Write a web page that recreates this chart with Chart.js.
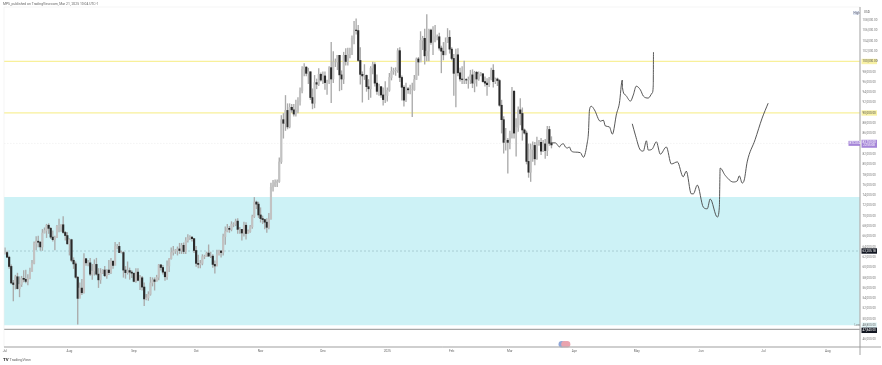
<!DOCTYPE html>
<html>
<head>
<meta charset="utf-8">
<style>
  html, body { margin: 0; padding: 0; background: #fff; }
  canvas { display: block; }
</style>
<script src="https://cdn.jsdelivr.net/npm/chart.js@4/dist/chart.umd.js"></script>
</head>
<body>
<canvas id="chart" width="882" height="365"></canvas>
<script>
// daily candles from 1 Jul 2024, prices in thousands of USD
const closes = [
  62.9,62.0,60.2,57.0,56.7,58.2,55.9,56.7,57.9,57.7,57.3,57.9,59.2,60.8,64.7,65.1,64.9,64.0,66.7,67.2,68.2,67.6,65.9,65.4,65.8,68.0,68.0,68.3,66.8,66.2,64.6,
  65.4,61.4,60.7,58.1,54.0,56.0,55.1,61.7,60.9,60.9,58.7,59.3,60.6,58.7,57.6,58.9,59.5,58.4,59.5,59.0,61.2,60.4,64.1,64.1,62.9,62.9,59.5,59.0,59.4,59.1,58.9,
  57.3,59.1,57.5,58.0,56.2,53.9,54.1,54.8,57.0,57.6,57.3,58.1,60.5,60.0,59.1,58.2,60.3,61.7,62.9,63.2,63.3,63.6,63.3,64.3,63.1,65.2,65.8,65.9,65.6,63.3,
  60.8,60.6,60.8,62.1,62.1,62.8,62.2,62.2,60.6,60.3,62.5,63.2,62.9,66.0,67.0,67.6,67.4,68.4,68.4,69.0,67.4,67.4,66.7,68.2,66.6,67.0,67.9,69.9,72.7,72.3,70.2,
  69.5,69.3,68.8,67.8,69.4,75.6,75.9,76.5,76.7,80.5,88.7,88.0,90.5,87.3,91.1,90.6,89.8,90.5,92.3,94.3,98.5,98.9,97.7,98.0,93.0,91.9,95.9,95.6,97.5,96.4,
  97.2,95.9,96.0,98.8,96.6,99.9,99.9,101.2,97.4,96.6,101.2,100.0,101.4,101.4,104.5,106.1,106.0,100.2,97.5,97.2,97.3,95.1,94.7,98.7,99.4,95.8,94.2,95.1,93.5,92.6,93.4,
  94.4,96.9,98.1,98.2,98.3,102.1,96.9,95.0,92.5,94.7,94.5,94.5,94.5,96.5,100.5,99.9,104.1,104.5,101.1,102.0,106.1,103.7,103.9,104.8,104.8,102.6,102.0,101.3,103.7,104.7,102.4,
  100.6,97.7,101.3,97.8,96.6,96.5,96.5,96.4,96.5,97.4,95.8,97.9,96.6,97.5,97.6,96.1,95.8,95.5,96.6,98.3,96.1,96.6,96.3,91.5,88.7,84.3,84.7,84.3,
  86.0,94.2,86.1,87.2,90.6,89.9,86.7,86.1,80.6,78.5,82.9,83.7,81.1,83.9,84.3,82.6,84.0,82.7,86.8,84.1,83.8
];
const opens = [
  62.7,62.9,62.0,60.2,57.0,56.7,58.2,55.9,56.7,57.9,57.7,57.3,57.9,59.2,60.8,64.7,65.1,64.9,64.0,66.7,67.2,68.2,67.6,65.9,65.4,65.8,68.0,68.0,68.3,66.8,66.2,
  64.6,65.4,61.4,60.7,58.1,54.0,56.0,55.1,61.7,60.9,60.9,58.7,59.3,60.6,58.7,57.6,58.9,59.5,58.4,59.5,59.0,61.2,60.4,64.1,64.1,62.9,62.9,59.5,59.0,59.4,59.1,
  58.9,57.3,59.1,57.5,58.0,56.2,53.9,54.1,54.8,57.0,57.6,57.3,58.1,60.5,60.0,59.1,58.2,60.3,61.7,62.9,63.2,63.3,63.6,63.3,64.3,63.1,65.2,65.8,65.9,65.6,
  63.3,60.8,60.6,60.8,62.1,62.1,62.8,62.2,62.2,60.6,60.3,62.5,63.2,62.9,66.0,67.0,67.6,67.4,68.4,68.4,69.0,67.4,67.4,66.7,68.2,66.6,67.0,67.9,69.9,72.7,72.3,
  70.2,69.5,69.3,68.8,67.8,69.4,75.6,75.9,76.5,76.7,80.5,88.7,88.0,90.5,87.3,91.1,90.6,89.8,90.5,92.3,94.3,98.5,98.9,97.7,98.0,93.0,91.9,95.9,95.6,97.5,
  96.4,97.2,95.9,96.0,98.8,96.6,99.9,99.9,101.2,97.4,96.6,101.2,100.0,101.4,101.4,104.5,106.1,106.0,100.2,97.5,97.2,97.3,95.1,94.7,98.7,99.4,95.8,94.2,95.1,93.5,92.6,
  93.4,94.4,96.9,98.1,98.2,98.3,102.1,96.9,95.0,92.5,94.7,94.5,94.5,94.5,96.5,100.5,99.9,104.1,104.5,101.1,102.0,106.1,103.7,103.9,104.8,104.8,102.6,102.0,101.3,103.7,104.7,
  102.4,100.6,97.7,101.3,97.8,96.6,96.5,96.5,96.4,96.5,97.4,95.8,97.9,96.6,97.5,97.6,96.1,95.8,95.5,96.6,98.3,96.1,96.6,96.3,91.5,88.7,84.3,84.7,
  84.3,86.0,94.2,86.1,87.2,90.6,89.9,86.7,86.1,80.6,78.5,82.9,83.7,81.1,83.9,84.3,82.6,84.0,82.7,86.8,84.1
];
const highs = [
  63.8,63.2,62.2,60.5,57.5,58.5,58.9,58.2,58.3,59.4,59.5,58.6,59.9,61.4,65.0,66.0,66.1,65.1,67.4,67.7,68.4,68.5,67.8,67.1,66.1,68.2,69.4,68.3,69.9,67.0,66.8,
  65.6,65.5,61.9,61.1,58.3,57.0,57.7,62.7,61.8,61.4,61.8,60.6,61.5,61.8,59.8,59.8,59.6,60.2,59.6,61.4,61.8,61.4,64.9,64.5,64.9,63.2,63.1,60.2,61.1,59.9,59.4,
  58.8,59.8,59.8,58.5,58.3,57.0,54.8,55.3,58.1,58.0,58.0,58.5,60.6,60.6,60.4,59.2,61.3,61.8,63.8,64.1,63.5,64.0,64.7,64.7,64.8,65.8,66.4,66.2,66.0,65.6,
  64.1,62.4,61.4,62.5,62.4,63.0,64.4,63.0,62.5,61.3,63.4,63.4,63.3,66.5,67.9,68.4,68.0,68.9,68.7,69.4,69.5,67.8,67.4,68.8,68.7,67.3,68.2,70.2,73.6,72.9,72.7,
  71.6,70.0,69.4,69.5,70.5,76.4,76.9,77.0,77.0,81.3,89.5,89.9,93.4,91.8,91.8,91.7,91.7,92.5,93.0,94.9,99.0,99.6,99.0,98.7,98.0,94.7,97.3,96.6,98.6,97.8,
  98.0,98.0,96.4,99.0,103.7,101.9,100.5,101.2,101.2,98.2,101.8,102.5,102.6,102.6,105.0,107.8,108.3,107.0,102.7,98.0,99.4,97.4,96.5,99.0,99.9,99.8,97.4,95.6,95.2,94.9,96.1,
  94.9,97.7,98.9,98.7,98.8,102.5,102.7,97.2,95.3,95.8,95.0,95.4,95.8,97.3,100.7,100.8,105.8,104.9,106.3,109.1,106.3,106.3,106.8,107.0,105.2,105.5,103.0,103.7,104.6,106.4,106.0,
  102.7,101.4,102.4,102.5,98.7,99.0,100.1,96.7,97.0,98.3,98.4,98.1,98.1,98.0,97.9,97.7,97.0,96.7,96.9,98.7,99.4,96.8,96.8,96.5,92.5,89.3,87.0,85.1,
  86.5,95.0,94.4,88.9,91.2,92.8,91.0,86.9,86.5,84.0,84.0,84.4,84.3,85.3,84.7,85.1,84.7,84.9,87.4,87.4,85.4
];
const lows = [
  62.6,61.9,59.8,56.8,53.5,55.8,55.8,54.3,56.3,57.2,57.0,56.6,57.8,59.6,60.7,63.4,64.0,63.3,63.3,66.7,65.8,66.6,65.6,65.1,63.4,65.8,66.9,67.0,66.6,65.3,64.5,
  62.4,61.1,59.8,57.9,49.0,54.6,54.7,55.0,60.4,60.3,58.4,57.7,58.5,58.5,56.1,56.9,58.8,58.2,57.9,58.6,58.8,59.8,60.8,63.6,62.9,62.8,58.1,57.9,58.7,57.7,58.0,
  57.2,57.1,57.4,55.7,55.6,52.6,53.7,53.6,54.6,56.4,55.6,57.4,57.6,59.5,58.7,57.5,57.7,59.2,61.6,62.4,62.7,62.4,62.7,62.7,62.7,62.7,64.9,65.4,65.1,62.9,
  60.2,59.9,59.9,60.5,61.7,62.1,62.2,61.9,60.0,58.9,60.3,62.4,62.0,62.4,64.5,66.9,66.8,67.1,67.9,68.1,66.6,66.6,65.3,66.1,65.5,66.8,66.8,67.6,69.7,71.4,69.7,
  68.8,68.5,67.5,66.8,67.5,69.4,74.8,75.7,75.7,76.5,80.2,85.1,86.6,86.9,87.1,90.1,89.4,89.4,90.0,91.5,93.9,97.2,97.2,95.7,92.6,90.8,91.0,94.7,95.3,96.2,
  95.7,94.6,93.6,95.7,92.0,95.9,99.0,98.4,94.3,94.5,95.7,99.3,99.3,100.7,101.3,103.4,105.3,100.0,95.6,92.1,96.5,94.2,92.6,93.0,97.6,95.2,93.6,93.4,93.0,91.5,92.0,
  92.3,94.2,96.4,97.5,97.3,97.9,96.1,92.5,91.3,92.2,93.8,93.7,89.3,94.4,96.5,97.3,100.0,102.3,99.5,100.1,100.1,103.3,101.3,103.8,104.2,102.2,97.8,100.3,101.3,103.7,101.6,
  100.3,93.4,91.2,97.2,96.2,95.7,95.7,95.7,94.8,95.7,94.9,94.1,95.2,96.3,97.2,96.0,95.2,93.4,95.1,96.4,95.0,95.7,95.3,91.3,86.1,82.2,82.8,78.3,
  83.0,85.1,85.1,81.6,86.4,87.7,84.7,85.9,80.1,77.5,76.7,80.6,79.9,81.0,83.7,81.9,82.5,81.2,81.7,83.7,83.2
];

// hand drawn projections: [day, price]
const pathUpper = [
  [262.5,84.2],[264.9,84.2],[265.9,83.8],[266.8,83.4],[267.8,83.9],[268.8,84.0],[269.7,83.4],[270.7,83.2],[271.6,83.4],
  [272.6,82.6],[274.5,82.4],[276.9,82.3],[278.4,81.4],
  [280.3,84.4],[280.8,86.1],[281.3,90.6],[282.2,91.3],[283.7,90.6],[286.5,88.4],[288,88.6],[288.9,87.5],
  [290.9,87.3],[292.3,85.9],[292.8,86.3],[294.2,89.6],[295.7,91.9],[297.1,96.4],[297.2,94.9],[298.6,93.5],
  [301,92.3],[302.4,93.5],[303.8,95.2],[305.8,94.5],[307.2,93.3],[309.6,92.9],[311.5,93.9],[312,95.4],[312.1,101.8]
];
const pathLower = [
  [301.9,87.9],[303.4,85.7],[305.8,82.8],[307.2,82.6],[308.7,84.6],[309.6,82.8],[311.5,83.0],[313.5,84.4],
  [315.4,82.0],[318.3,83.4],[320.7,80.1],[323.6,80.5],[326.4,77.6],[327.9,78.7],[330.3,74.3],[331.3,74.3],
  [333.2,76.0],[336.1,71.7],[338,71.4],[339.4,73.3],[342.8,69.8],[343.8,71.7],[344.2,79.3],[346.6,77.9],
  [350.5,76.6],[352.4,76.8],[353.4,77.8],[354.8,76.4],[355.8,77.0],[357.2,80.5],[361,84.8],[364.4,89.0],[367.3,91.9]
];

const monthDays = [0,31,62,92,123,153,184,215,243,274,304,335,365,396];
const monthLabels = ["Jul","Aug","Sep","Oct","Nov","Dec","2025","Feb","Mar","Apr","May","Jun","Jul","Aug"];
const priceTicks = [46,48,50,52,54,56,58,60,62,64,66,68,70,72,74,76,78,80,82,84,86,88,90,92,94,96,98,100,102,104,106,108];

const zoneTop = 73.7, zoneBottom = 48.8;
const resistanceLevels = [100, 90];
const lastPriceLevel = 84.1;
const dashedLevel = 63.2;
const paneFloor = 48;
const eventDays = [268, 269.3, 270.5];
const eventPrice = 45.1;

// boxes on the price axis
const priceTags = [
  { value: 100, text: "100,000.00", bg: "#f8f1a4", fg: "#555" },
  { value: 90, text: "90,000.00", bg: "#f8f1a4", fg: "#555" },
  { value: 63.2, text: "63,205.18", bg: "#131722", fg: "#fff" },
  { value: 48.8, text: "48,800.00", bg: "#e4f6f8", fg: "#666" },
  { value: 47.8, text: "47,840.00", bg: "#131722", fg: "#fff" }
];

const xMin = -0.48, xMax = 411.5;
const level = (v, color, width, dash) => ({
  type: "line",
  data: [{ x: xMin, y: v }, { x: xMax, y: v }],
  borderColor: color,
  borderWidth: width,
  borderDash: dash || [],
  pointRadius: 0,
  order: 4
});
const drawn = (path) => ({
  type: "line",
  data: path.map(p => ({ x: p[0], y: p[1] })),
  borderColor: "#444444",
  borderWidth: 0.9,
  cubicInterpolationMode: "monotone",
  pointRadius: 0,
  order: 1
});

const annotations = {
  id: "annotations",
  afterDraw(chart) {
    const ctx = chart.ctx, y = chart.scales.y, area = chart.chartArea;
    ctx.save();

    // frame
    ctx.strokeStyle = "#eeeeee";
    ctx.lineWidth = 0.6;
    ctx.strokeRect(area.left, area.top, area.right - area.left, area.bottom - area.top);
    ctx.strokeStyle = "#9a9a9a";
    ctx.lineWidth = 0.9;
    ctx.beginPath();
    ctx.moveTo(area.right, area.top);
    ctx.lineTo(area.right, 355);
    ctx.moveTo(area.left, area.bottom);
    ctx.lineTo(881, area.bottom);
    ctx.stroke();

    ctx.textBaseline = "middle";
    ctx.font = "3px Roboto, sans-serif";
    priceTags.forEach(t => {
      const py = y.getPixelForValue(t.value);
      ctx.fillStyle = t.bg;
      ctx.fillRect(area.right + 1.5, py - 2.7, 15.5, 5.4);
      ctx.fillStyle = t.fg;
      ctx.textAlign = "left";
      ctx.fillText(t.text, area.right + 2.6, py);
    });

    // last price tag, two lines
    const lastY = y.getPixelForValue(lastPriceLevel);
    ctx.fillStyle = "#a585d8";
    ctx.fillRect(area.right + 1.5, lastY - 3.6, 15.5, 8);
    ctx.fillRect(area.right - 11.5, lastY - 2.5, 11.5, 5);
    ctx.fillStyle = "#fff";
    ctx.fillText("83,750.00", area.right + 2.6, lastY - 1.2);
    ctx.fillText("22:55:08", area.right + 3.2, lastY + 2.2);
    ctx.fillText("BTCUSD", area.right - 10.5, lastY);

    ctx.fillStyle = "#dfe6f2";
    ctx.fillRect(area.right - 7, 11, 6.5, 4);
    ctx.fillStyle = "#667";
    ctx.fillText("High", area.right - 6.4, 13);
    ctx.fillStyle = "#777";
    ctx.fillText("Low", area.right - 5.5, y.getPixelForValue(zoneBottom));
    ctx.fillStyle = "#555";
    ctx.fillText("USD", area.right + 4, 12);

    // header and footer text
    ctx.font = "3.4px Roboto, sans-serif";
    ctx.fillStyle = "#666";
    ctx.fillText("MPS, published on TradingView.com, Mar 21, 2025 10:04 UTC-1", 3, 4);
    ctx.font = "bold 4.4px Roboto, sans-serif";
    ctx.fillStyle = "#222";
    ctx.fillText("TV", 3, 360);
    ctx.font = "3.9px Roboto, sans-serif";
    ctx.fillStyle = "#666";
    ctx.fillText("TradingView", 9.5, 360);
    ctx.restore();
  }
};

new Chart(document.getElementById("chart"), {
  data: {
    datasets: [
      {
        type: "line",
        data: [{ x: xMin, y: zoneTop }, { x: xMax, y: zoneTop }],
        borderWidth: 0,
        pointRadius: 0,
        backgroundColor: "#cdf2f6",
        fill: { value: zoneBottom },
        order: 6
      },
      level(resistanceLevels[0], "#f8f09a", 1.25),
      level(resistanceLevels[1], "#f8f09a", 1.25),
      level(lastPriceLevel, "#e6e6e6", 0.5, [1.5, 1.5]),
      level(dashedLevel, "#86a9b0", 0.5, [2, 2]),
      level(paneFloor, "#a6a6a6", 1.2),
      {
        type: "bar",
        grouped: false,
        barThickness: 0.7,
        data: lows.map((l, i) => ({ x: i, y: [l, highs[i]] })),
        backgroundColor: "#ababab",
        order: 3
      },
      {
        type: "bar",
        grouped: false,
        barThickness: 1.5,
        data: closes.map((c, i) => ({ x: i, y: [opens[i], c] })),
        backgroundColor: closes.map((c, i) => c >= opens[i] ? "#c2c2c2" : "#2a2a2a"),
        order: 2
      },
      drawn(pathUpper),
      drawn(pathLower),
      {
        type: "line",
        showLine: false,
        clip: false,
        data: eventDays.map(d => ({ x: d, y: eventPrice })),
        pointRadius: 3.3,
        pointBorderWidth: 0,
        pointBackgroundColor: ["#8ea6d8", "#e9a3ae", "#e9a3ae"],
        order: 1
      }
    ]
  },
  options: {
    responsive: false,
    animation: false,
    events: [],
    layout: { padding: { left: 3, top: 7, right: 0, bottom: 0 } },
    plugins: { legend: { display: false }, tooltip: { enabled: false }, title: { display: false } },
    scales: {
      x: {
        type: "linear",
        offset: false,
        min: xMin,
        max: xMax,
        grid: { display: false, drawTicks: false },
        border: { display: false },
        afterBuildTicks(axis) { axis.ticks = monthDays.map(d => ({ value: d })); },
        afterFit(axis) { axis.height = 18; },
        ticks: {
          autoSkip: false,
          maxRotation: 0,
          padding: 2,
          color: "#666",
          font: { size: 3.2, family: "Roboto, sans-serif" },
          callback: (v) => monthLabels[monthDays.indexOf(v)]
        }
      },
      y: {
        position: "right",
        min: 44.56,
        max: 110.58,
        grid: { display: false, drawTicks: false },
        border: { display: false },
        afterBuildTicks(axis) { axis.ticks = priceTicks.map(v => ({ value: v })); },
        afterFit(axis) { axis.width = 22; },
        ticks: {
          autoSkip: false,
          padding: 2.6,
          color: "#777",
          font: { size: 3, family: "Roboto, sans-serif" },
          callback: (v) => (v * 1000).toLocaleString("en-US", { minimumFractionDigits: 2 })
        }
      }
    }
  },
  plugins: [annotations]
});
</script>
</body>
</html>
